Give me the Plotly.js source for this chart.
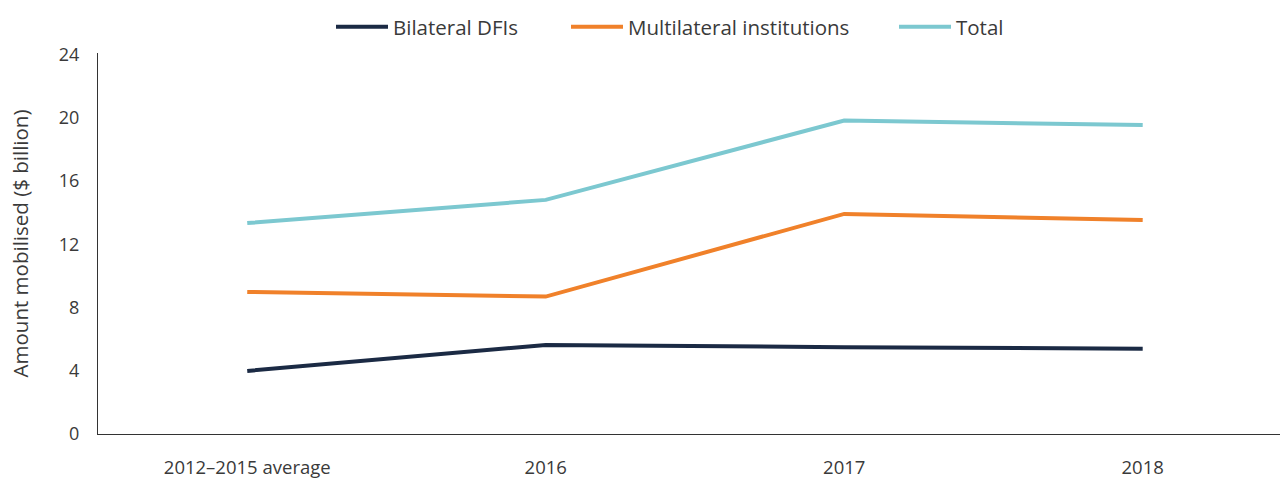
<!DOCTYPE html>
<html>
<head>
<meta charset="utf-8">
<script src="https://cdn.plot.ly/plotly-3.0.1.min.js"></script>
<style>html,body{margin:0;padding:0;background:#fff;}#chart{width:1282px;height:481px;}</style>
</head>
<body>
<div id="chart"></div>
<script>
const categories = ["2012–2015 average", "2016", "2017", "2018"];
const bilateral = [3.99, 5.63, 5.49, 5.40];
const multilateral = [8.99, 8.69, 13.92, 13.53];
const total = [13.34, 14.81, 19.83, 19.54];
const seriesNames = ["Bilateral DFIs", "Multilateral institutions", "Total"];
const yTicks = [0, 4, 8, 12, 16, 20, 24];

const colors = ["#1b2a44", "#f0812a", "#7cc8d0"];
const series = [bilateral, multilateral, total];
const legendIds = ["legend", "legend2", "legend3"];
const legendX = [331, 566, 894];

const fam = "Open Sans, Lato, sans-serif";
const txt = "#3a3a3a";

const traces = series.map((vals, i) => ({
  type: "scatter",
  mode: "lines",
  x: categories,
  y: vals,
  name: seriesNames[i],
  legend: legendIds[i],
  line: {color: colors[i], width: 4}
}));

const layout = {
  width: 1282,
  height: 481,
  margin: {l: 98, r: 2, t: 53, b: 47},
  paper_bgcolor: "#ffffff",
  plot_bgcolor: "#ffffff",
  font: {family: fam, color: txt, size: 18},
  showlegend: true,
  xaxis: {
    type: "category",
    range: [-0.5, 3.46],
    showgrid: false,
    zeroline: false,
    showline: true,
    linecolor: "#333333",
    linewidth: 1,
    ticks: "",
    tickfont: {family: fam, size: 18.5, color: txt},
    ticklabelstandoff: 17
  },
  yaxis: {
    range: [0, 24.1],
    tickvals: yTicks,
    ticktext: yTicks.map(String),
    showgrid: false,
    zeroline: false,
    showline: true,
    linecolor: "#333333",
    linewidth: 1,
    ticks: "",
    ticklabelstandoff: 14,
    tickfont: {family: fam, size: 18, color: txt},
    title: {text: "Amount mobilised ($ billion)", font: {family: fam, size: 20.5, color: txt}, standoff: 24}
  }
};

legendIds.forEach((id, i) => {
  layout[id] = {
    orientation: "h",
    xref: "container",
    yref: "container",
    x: legendX[i] / 1282,
    xanchor: "left",
    y: 1 - 27 / 481,
    yanchor: "middle",
    itemwidth: 52,
    bgcolor: "rgba(0,0,0,0)",
    font: {family: fam, size: 20.5, color: txt}
  };
});

Plotly.newPlot("chart", traces, layout, {displayModeBar: false, staticPlot: true});
</script>
</body>
</html>
